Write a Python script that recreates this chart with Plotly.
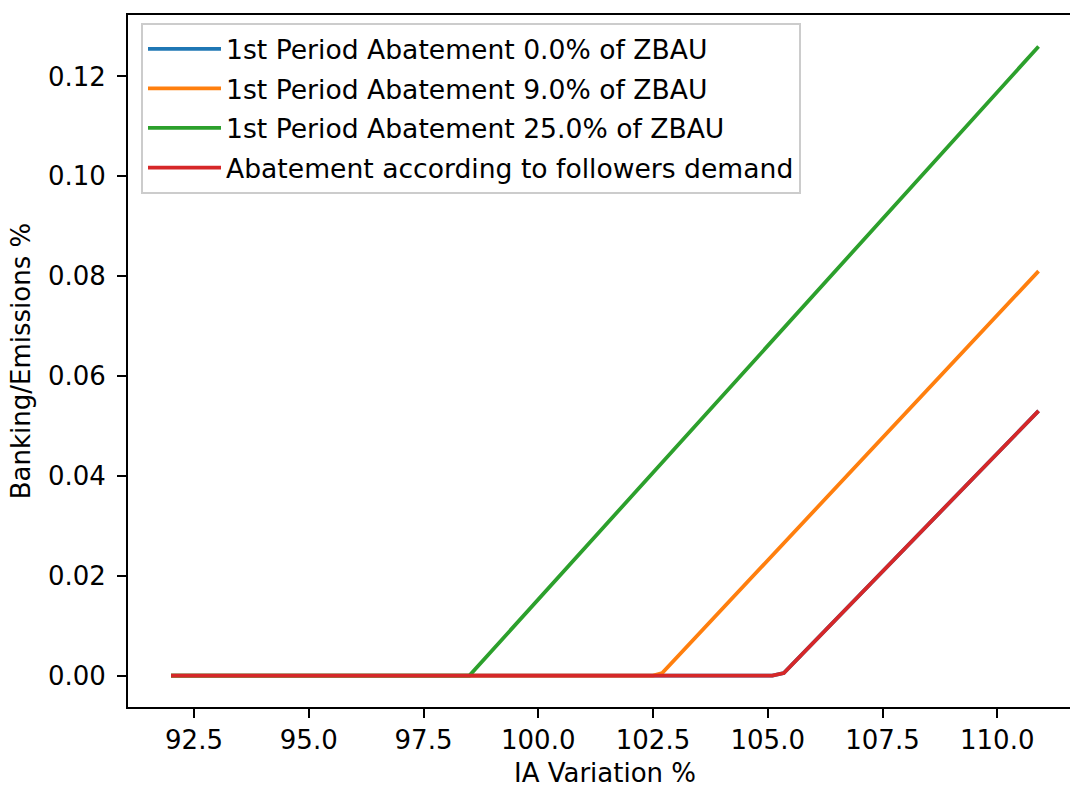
import plotly.graph_objects as go

# Data
x_blue = [92.0, 105.1, 105.35, 110.9]
y_blue = [0.0, 0.0, 0.0005, 0.053]

x_orange = [92.0, 102.5, 102.7, 110.9]
y_orange = [0.0, 0.0, 0.0005, 0.081]

x_green = [92.0, 98.5, 110.9]
y_green = [0.0, 0.0, 0.126]

x_red = [92.0, 105.1, 105.35, 110.9]
y_red = [0.0, 0.0, 0.0005, 0.053]

names = [
    "1st Period Abatement 0.0% of ZBAU",
    "1st Period Abatement 9.0% of ZBAU",
    "1st Period Abatement 25.0% of ZBAU",
    "Abatement according to followers demand",
]
colors = ["#1f77b4", "#ff7f0e", "#2ca02c", "#d62728"]
series = [(x_blue, y_blue), (x_orange, y_orange), (x_green, y_green), (x_red, y_red)]

fig = go.Figure()
for i, ((xs, ys), nm, c) in enumerate(zip(series, names, colors)):
    fig.add_trace(go.Scatter(x=xs, y=ys, mode="lines", name=nm,
                             legendgroup=f"g{i}",
                             line=dict(color=c, width=3.75)))

W, H = 1070, 787
ml, mt, mb, mr = 128, 15, 80, 0
pw = W - ml - mr
ph = H - mt - mb
px_per_x = 45.9
x0 = 92.5 - (194 - ml) / px_per_x
x1 = x0 + pw / px_per_x
FS = 26

fig.update_layout(
    width=W, height=H,
    margin=dict(l=ml, r=mr, t=mt, b=mb, pad=0),
    paper_bgcolor="white", plot_bgcolor="white",
    font=dict(family="DejaVu Sans", size=FS, color="black"),
    showlegend=True,
    legend=dict(
        x=(141 - ml) / pw, y=1 - (23 - mt) / ph,
        xanchor="left", yanchor="top",
        bgcolor="rgba(255,255,255,0.8)",
        bordercolor="#cccccc", borderwidth=2,
        font=dict(size=26.6),
        traceorder="grouped",
        tracegroupgap=2,
        itemwidth=73,
    ),
    xaxis=dict(
        range=[x0, x1],
        tick0=92.5, dtick=2.5, tickformat=".1f",
        showgrid=False, zeroline=False,
        showline=True, linecolor="black", linewidth=2, mirror=True,
        ticks="outside", ticklen=9, tickwidth=2, tickcolor="black",
    ),
    yaxis=dict(
        range=[-0.0063, 0.1323],
        tick0=0, dtick=0.02, tickformat=".2f",
        showgrid=False, zeroline=False,
        showline=True, linecolor="black", linewidth=2, mirror=False,
        ticks="outside", ticklen=9, tickwidth=2, tickcolor="black",
        ticklabelstandoff=6,
        title=dict(text="Banking/Emissions %", standoff=10, font=dict(size=FS)),
    ),
    annotations=[dict(
        text="IA Variation %", xref="paper", yref="paper",
        x=(605 - ml) / pw, y=(ph - (773 - mt)) / ph,
        xanchor="center", yanchor="middle", showarrow=False,
        font=dict(size=FS),
    )],
)

fig.write_html("out.html")
